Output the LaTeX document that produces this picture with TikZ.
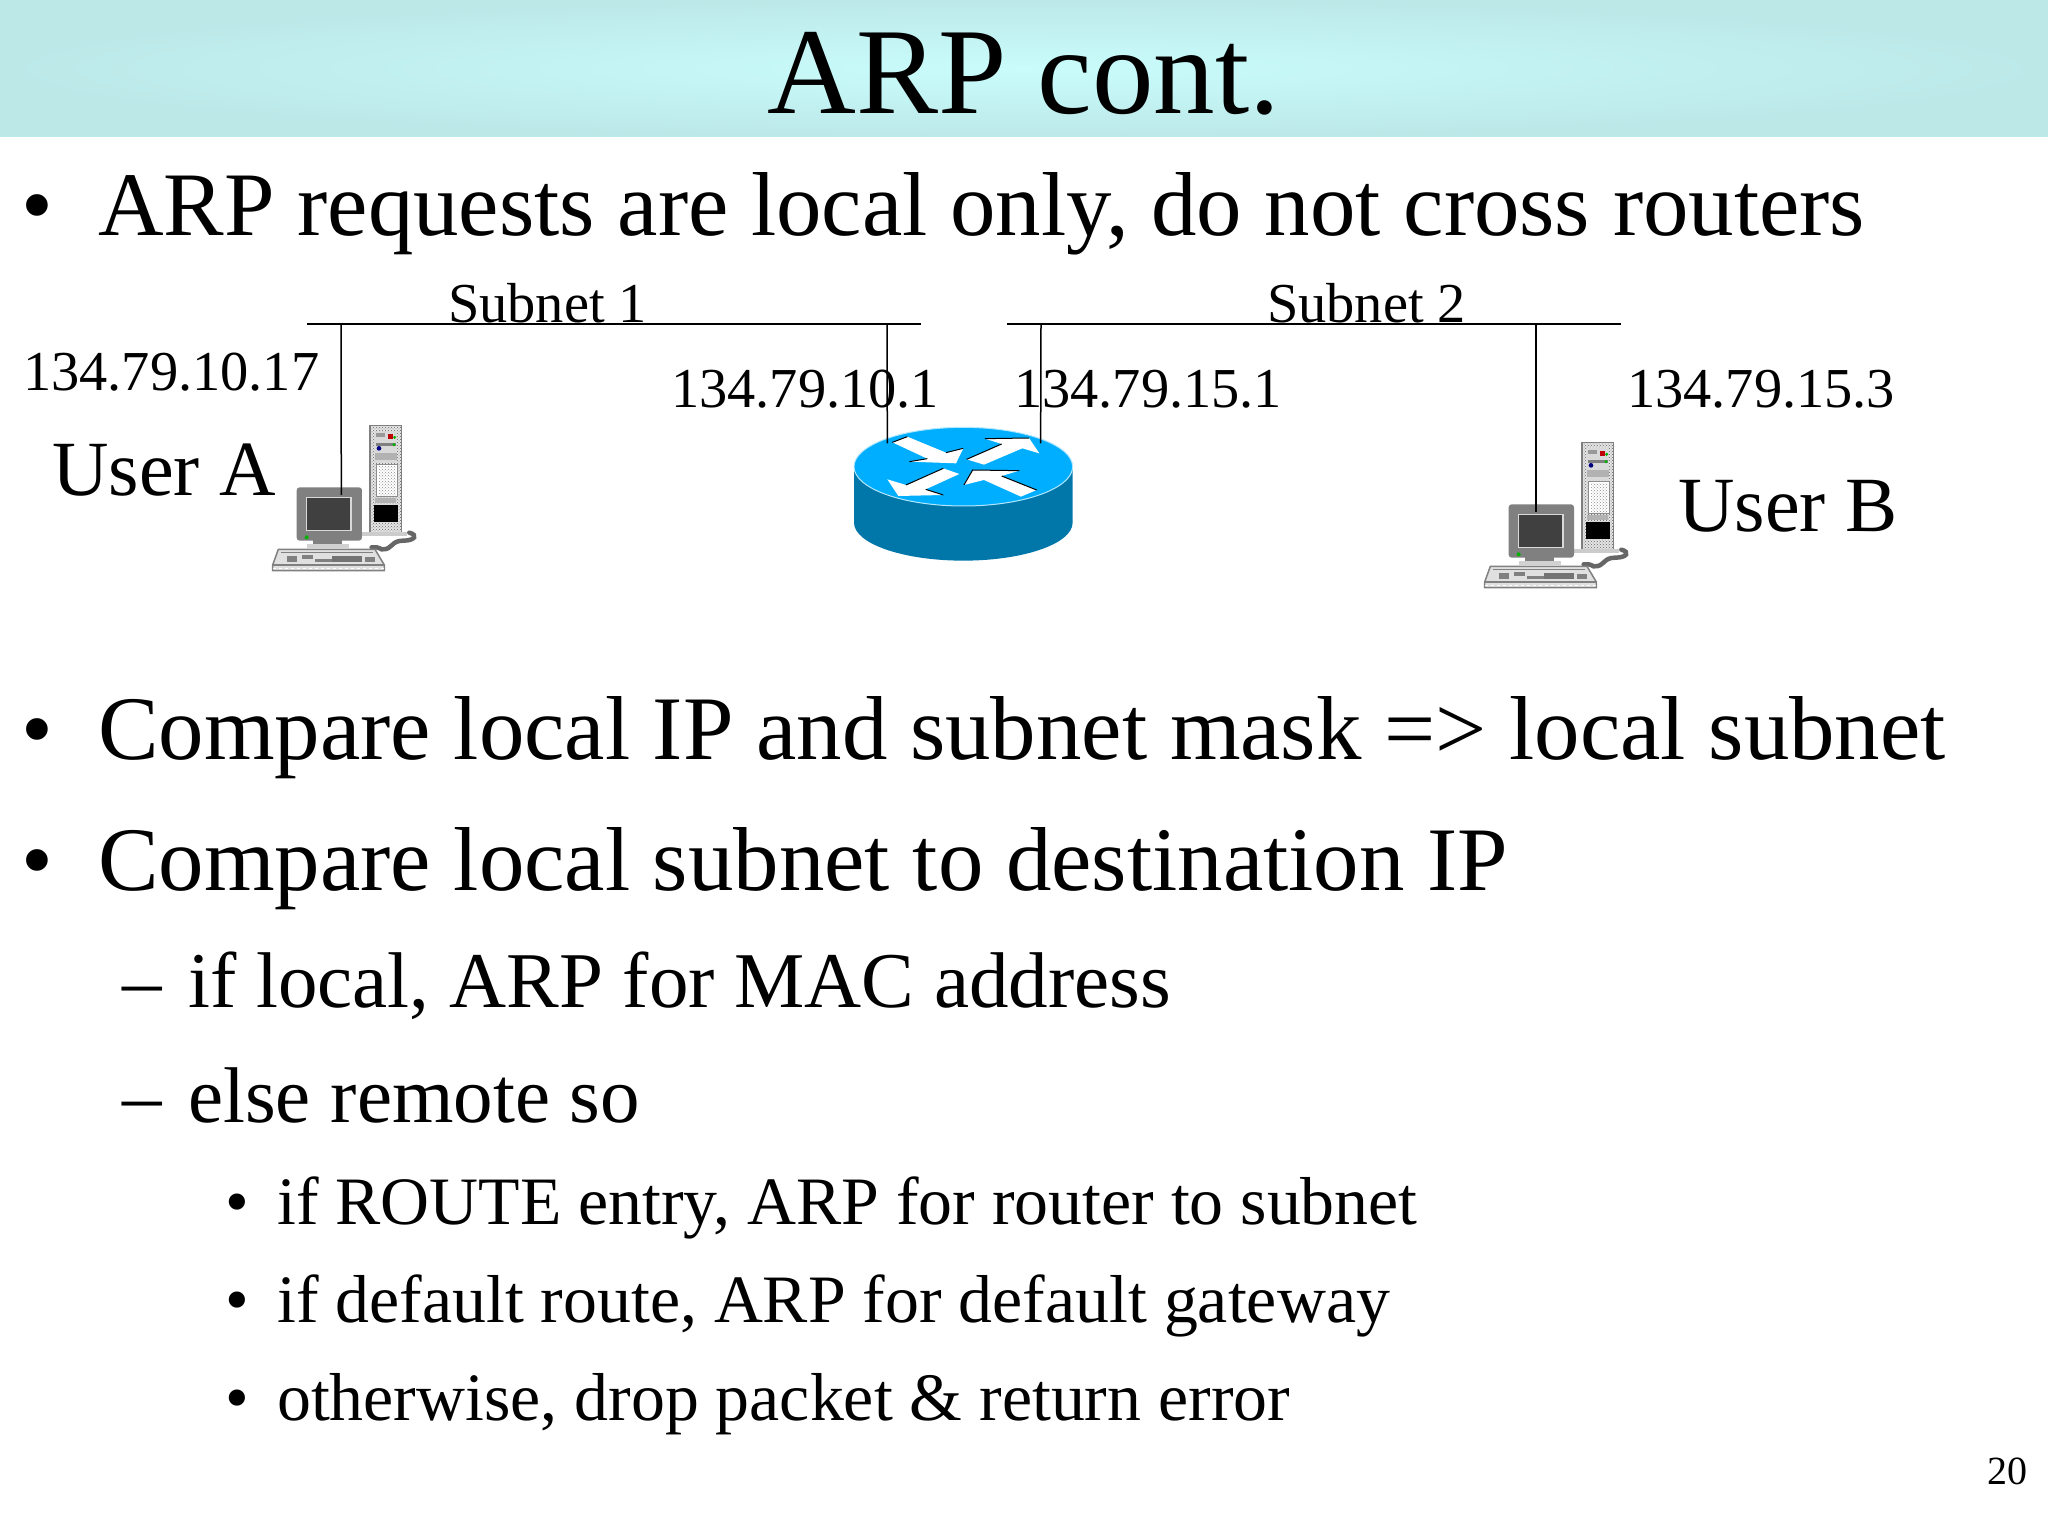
\documentclass[tikz,border=0pt]{standalone}
\usepackage{fontspec}
\setmainfont{Liberation Serif}
\usetikzlibrary{patterns,shadings}
\definecolor{bandcolor}{RGB}{188, 232, 232}
\definecolor{bandmid}{RGB}{202, 252, 252}
\definecolor{routertop}{RGB}{0, 174, 255}
\definecolor{routerside}{RGB}{0, 119, 168}
\tikzset{
    computer/.pic={
        \begin{scope}[x=0.3333pt, y=-0.3333pt]
        % Tower
        \draw[black!50, fill=black!10, line width=1.5pt] (360,47) rectangle (455,372);
        \path[pattern=crosshatch dots, pattern color=black!60] (362,49) rectangle (453,370);
        \fill[black!15] (374,62) rectangle (441,160);
        \fill[black!40] (378,68) rectangle (405,80);
        \fill[red!75!black] (415,72) rectangle (428,88);
        \fill[green!70!black] (434,82) circle (5);
        \fill[black!50] (378,98) rectangle (438,108);
        \fill[green!70!black] (432,104) circle (5);
        \fill[blue!50!black] (387,115) circle (7);
        \fill[black!30] (376,130) rectangle (440,150);
        \fill[white] (378,162) rectangle (444,262);
        \draw[black!45, line width=1pt] (380,164) rectangle (442,260);
        \path[pattern=crosshatch dots, pattern color=black!45] (387,170) rectangle (438,258);
        \fill[black!30] (376,265) rectangle (438,280);
        \fill[black] (372,285) rectangle (444,335);
        % Cable
        \fill[black!20] (336,366) rectangle (470,378);
        \draw[black!60, line width=4.5pt, line cap=round] (478,368) .. controls (505,375) and (495,392) .. (460,392) .. controls (420,392) and (430,420) .. (395,418) .. controls (385,412) and (375,410) .. (365,412);
        % Monitor
        \fill[black!18] (172,403) rectangle (298,413);
        \fill[black!50] (190,390) rectangle (275,402);
        \fill[black!50, rounded corners=3pt] (140,232) rectangle (336,392);
        \draw[black!15, line width=1.2pt] (170,262) rectangle (303,362);
        \fill[black!75] (172,264) rectangle (301,360);
        \fill[green!70!black] (170,382) circle (6);
        % Keyboard
        \draw[black!50, fill=black!12, line width=1.5pt] (85,418) -- (375,418) -- (403,465) -- (403,482) -- (68,482) -- (68,465) -- cycle;
        \draw[white, dashed, line width=1pt] (68,476) -- (403,476);
        \draw[black!50, line width=1.5pt] (68,465) -- (403,465);
        \draw[black!50, line width=1pt] (92,428) -- (368,428);
        \fill[black!50] (110,438) rectangle (142,456);
        \fill[black!50] (155,436) rectangle (188,448);
        \fill[black!55] (245,438) rectangle (335,456);
        \fill[black!50] (195,448) rectangle (245,456);
        \fill[black!50] (345,440) rectangle (375,456);
        \coordinate (-screen) at (274,255);
        \end{scope}
    },
    router/.pic={
        \begin{scope}[x=0.3333pt, y=-0.3333pt]
        \fill[routerside] (72,200) -- (72,368) arc[start angle=180, end angle=360, x radius=328, y radius=-114] -- (728,200) -- cycle;
        \draw[white!70!routertop, fill=routertop, line width=1pt] (400,200) ellipse[x radius=328, y radius=118];
        % Arrows
        \fill[white] (187,127) -- (232,110) -- (348,158) -- (400,145) -- (378,190) -- (238,185) -- (292,176) -- cycle;
        \fill[white] (410,178) -- (515,132) -- (465,116) -- (597,114) -- (628,160) -- (577,145) -- (462,194) -- cycle;
        \fill[white] (172,238) -- (228,255) -- (340,205) -- (388,222) -- (287,268) -- (340,285) -- (205,288) -- cycle;
        \fill[white] (402,255) -- (428,210) -- (568,212) -- (515,228) -- (620,270) -- (573,290) -- (462,240) -- cycle;
        \draw[black, line width=1pt] (187,127) -- (232,110) (348,158) -- (400,145) (238,185) -- (292,176);
        \draw[black, line width=1pt] (410,178) -- (515,132) (465,116) -- (597,114);
        \draw[black, line width=1pt] (228,255) -- (340,205) (287,268) -- (340,285);
        \draw[black, line width=1pt] (402,255) -- (428,210) -- (568,212) (515,228) -- (620,270);
        \coordinate (-portl) at (172,130);
        \coordinate (-portr) at (632,130);
        \end{scope}
    }
}
\begin{document}
\begin{tikzpicture}[
    x=1pt, y=-1pt,
    title/.style={font=\fontsize{123}{123}\selectfont, anchor=base, inner sep=0pt},
    body/.style={font=\fontsize{90.8}{91}\selectfont, anchor=base west, inner sep=0pt},
    sub/.style={font=\fontsize{79}{79}\selectfont, anchor=base west, inner sep=0pt},
    subsub/.style={font=\fontsize{67.8}{68}\selectfont, anchor=base west, inner sep=0pt},
    addr/.style={font=\fontsize{56.4}{57}\selectfont, anchor=base west, inner sep=0pt},
    user/.style={font=\fontsize{78.2}{79}\selectfont, anchor=base west, inner sep=0pt},
    wire/.style={black, line width=1.5pt}
]
    \useasboundingbox (0,0) rectangle (2048,1536);

    % Title band
    \node[inner sep=0pt, minimum width=2048pt, minimum height=137pt, shading=radial, inner color=bandmid, outer color=bandcolor] (band) at (1024,68.5) {};
    \node[title] (heading) at (1024,114) {ARP cont.};

    % Bullets
    \node[body, anchor=base] (b1) at (37,235) {•};
    \node[body] (line1) at (98,235) {ARP requests are local only, do not cross routers};
    \node[body, anchor=base] (b2) at (37,759) {•};
    \node[body] (line2) at (98,759) {Compare local IP and subnet mask => local subnet};
    \node[body, anchor=base] (b3) at (37,890) {•};
    \node[body] (line3) at (98,890) {Compare local subnet to destination IP};
    \node[sub] (d1) at (122,1007) {–};
    \node[sub] (line4) at (188,1007) {if local, ARP for MAC address};
    \node[sub] (d2) at (122,1122) {–};
    \node[sub] (line5) at (188,1122) {else remote so};
    \node[subsub, anchor=base] (b4) at (237,1224) {•};
    \node[subsub] (line6) at (277,1224) {if ROUTE entry, ARP for router to subnet};
    \node[subsub, anchor=base] (b5) at (237,1322) {•};
    \node[subsub] (line7) at (277,1322) {if default route, ARP for default gateway};
    \node[subsub, anchor=base] (b6) at (237,1420) {•};
    \node[subsub] (line8) at (277,1420) {otherwise, drop packet \& return error};
    \node[font=\fontsize{40}{40}\selectfont, anchor=base east, inner sep=0pt] (pageno) at (2028,1484) {20};

    % Labels
    \node[addr] (subnet1) at (448,322) {Subnet 1};
    \node[addr] (subnet2) at (1267,322) {Subnet 2};
    \node[addr] (ipa) at (23,390) {134.79.10.17};
    \node[addr] (ipl) at (671,407) {134.79.10.1};
    \node[addr] (ipr) at (1014,407) {134.79.15.1};
    \node[addr] (ipb) at (1627,407) {134.79.15.3};
    \node[user] (usera) at (52,495) {User A};
    \node[user] (userb) at (1678,531) {User B};

    % Devices
    \pic (pca) at (250,410) {computer};
    \pic (pcb) at (1462,427) {computer};
    \pic (rtr) at (830,400) {router};

    % Subnets
    \coordinate (net1l) at (307,324);
    \coordinate (net1r) at (921,324);
    \coordinate (net2l) at (1007,324);
    \coordinate (net2r) at (1621,324);
    \coordinate (tapa) at (341,324);
    \coordinate (tapl) at (887,324);
    \coordinate (tapr) at (1041,324);
    \coordinate (tapb) at (1536,324);
    \draw[wire] (net1l) -- (net1r);
    \draw[wire] (net2l) -- (net2r);
    \draw[wire] (tapa) -- (pca-screen);
    \draw[wire] (tapl) -- (rtr-portl);
    \draw[wire] (tapr) -- (rtr-portr);
    \draw[wire] (tapb) -- (tapb |- pcb-screen);
\end{tikzpicture}
\end{document}
